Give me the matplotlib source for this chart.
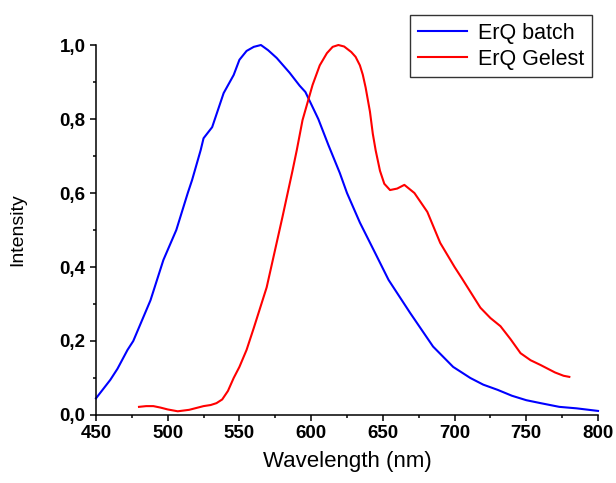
import numpy as np
import matplotlib
matplotlib.use("Agg")
import matplotlib.pyplot as plt
from matplotlib.ticker import MultipleLocator, FuncFormatter

# ErQ batch
wl_batch = [450, 460, 465, 472, 476, 488, 497, 506, 514, 517, 523, 525, 531, 539, 546,
            550, 555, 560, 565, 570, 576, 585, 592, 596, 605, 612, 620, 625, 634, 645,
            654, 669, 685, 699, 711, 720, 730, 740, 750, 760, 773, 785, 800]
int_batch = [0.045, 0.095, 0.125, 0.176, 0.20, 0.31, 0.419, 0.50, 0.60, 0.635, 0.716, 0.748,
             0.778, 0.87, 0.919, 0.96, 0.984, 0.995, 1.0, 0.986, 0.965, 0.925, 0.89, 0.873,
             0.80, 0.73, 0.654, 0.60, 0.52, 0.435, 0.365, 0.276, 0.185, 0.13, 0.10, 0.082,
             0.068, 0.052, 0.04, 0.032, 0.022, 0.018, 0.011]

# ErQ Gelest
wl_gelest = [480, 485, 490, 495, 500, 507, 515, 525, 530, 534, 538, 542, 546, 550, 555,
             560, 569, 580, 587, 590, 594, 601, 606, 611, 615, 619, 623, 628, 631, 634,
             636, 638, 641, 643, 645, 648, 651, 655, 660, 665, 672, 681, 690, 700, 705,
             718, 725, 732, 739, 746, 753, 760, 770, 776, 780]
int_gelest = [0.022, 0.024, 0.024, 0.02, 0.015, 0.010, 0.014, 0.024, 0.027, 0.032, 0.042,
              0.065, 0.1, 0.13, 0.176, 0.235, 0.345, 0.535, 0.66, 0.716, 0.797, 0.892,
              0.945, 0.978, 0.995, 1.0, 0.996, 0.981, 0.968, 0.945, 0.92, 0.885, 0.82,
              0.76, 0.715, 0.66, 0.625, 0.608, 0.612, 0.622, 0.6, 0.549, 0.465, 0.40, 0.37,
              0.29, 0.262, 0.24, 0.205, 0.167, 0.148, 0.135, 0.115, 0.106, 0.103]

plt.rcParams['font.family'] = ['Liberation Sans', 'DejaVu Sans']

fig = plt.figure(figsize=(6.16, 4.83), dpi=100)
ax = fig.add_axes([0.1558, 0.1408, 0.815, 0.766])

ax.plot(wl_batch, int_batch, color='#0000ff', lw=1.5, label='ErQ batch', clip_on=False)
ax.plot(wl_gelest, int_gelest, color='#ff0000', lw=1.5, label='ErQ Gelest', clip_on=False)

ax.set_xlim(450, 800)
ax.set_ylim(0, 1.0)
ax.xaxis.set_major_locator(MultipleLocator(50))
ax.xaxis.set_minor_locator(MultipleLocator(25))
ax.yaxis.set_major_locator(MultipleLocator(0.2))
ax.yaxis.set_minor_locator(MultipleLocator(0.1))
ax.yaxis.set_major_formatter(FuncFormatter(lambda v, p: f"{v:.1f}".replace('.', ',')))

for s in ['top', 'right']:
    ax.spines[s].set_visible(False)
for s in ['left', 'bottom']:
    ax.spines[s].set_linewidth(1.1)

ax.tick_params(which='major', direction='out', length=4.5, width=1.1, labelsize=13.5, pad=3)
ax.tick_params(which='minor', direction='out', length=2.5, width=1.1)
for lab in ax.get_xticklabels() + ax.get_yticklabels():
    lab.set_fontweight('bold')

ax.set_xlabel('Wavelength (nm)', fontsize=16, labelpad=6)
ax.set_ylabel('Intensity', fontsize=14, labelpad=24)

leg = fig.legend(loc='upper right', bbox_to_anchor=(0.961, 0.969), fontsize=15.5,
                 frameon=True, fancybox=False, handlelength=2.3, borderpad=0.35,
                 labelspacing=0.25, handletextpad=0.5, borderaxespad=0)
leg.get_frame().set_edgecolor('black')
leg.get_frame().set_linewidth(1.0)

fig.savefig('out.png', dpi=100)
